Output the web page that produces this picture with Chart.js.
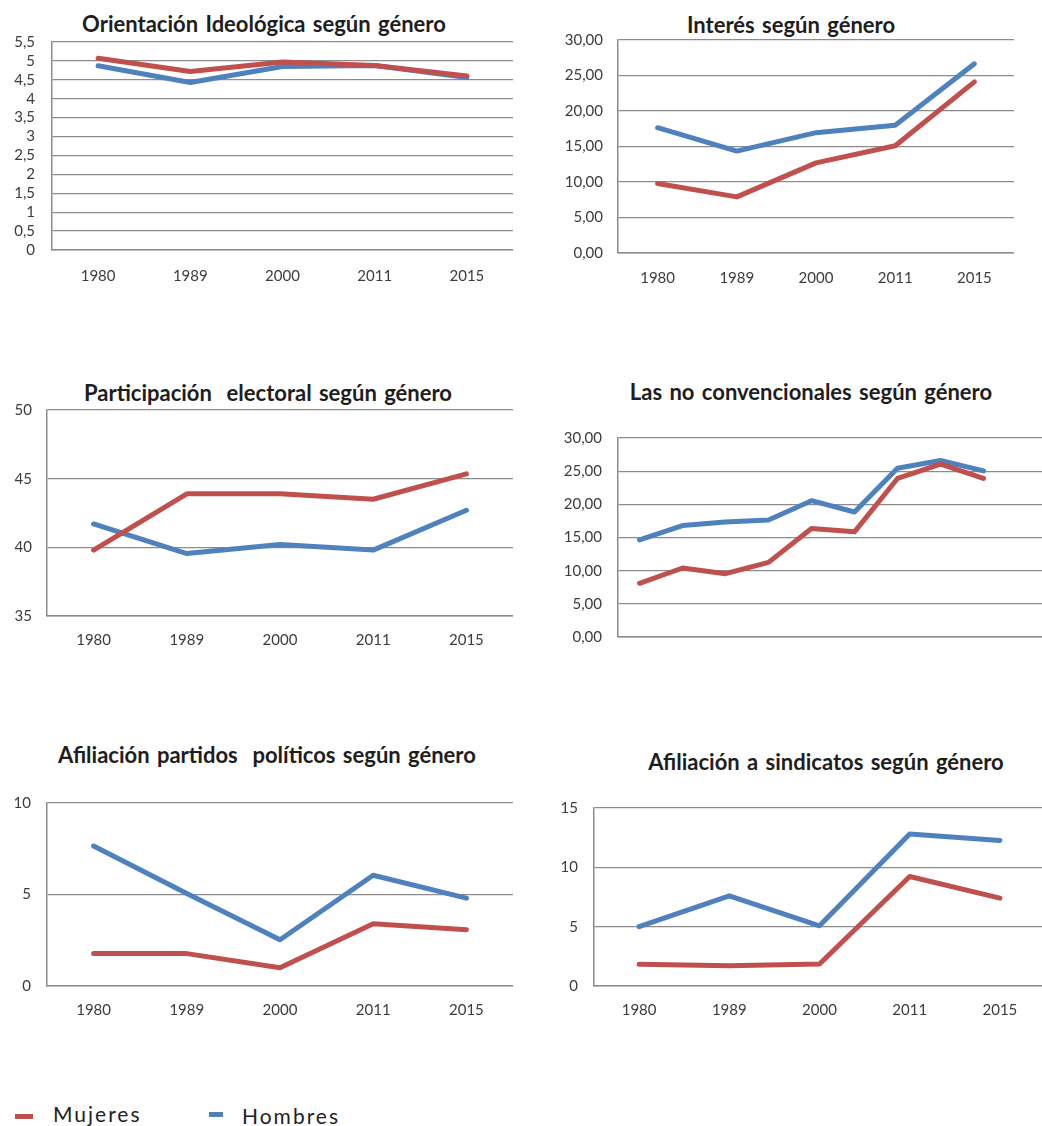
<!DOCTYPE html>
<html lang="es">
<head>
<meta charset="utf-8">
<title>Indicadores políticos según género</title>
<script src="https://cdn.jsdelivr.net/npm/chart.js@4.4.1/dist/chart.umd.min.js"></script>
<style>
  html, body { margin: 0; padding: 0; background: #fff; }
  body { width: 1042px; height: 1126px; position: relative; overflow: hidden; font-family: Lato, "Open Sans", sans-serif; }
  .box { position: absolute; }
  .titulo { position: absolute; transform: translate(-50%, -50%); white-space: pre; font-weight: bold; font-size: 22px; color: #1e1e1e; word-spacing: 2px; }
  .leyenda { position: absolute; font-size: 21px; letter-spacing: 2px; color: #222; transform: translateY(-50%); }
  .marca { position: absolute; height: 5px; }
</style>
</head>
<body>
<script>
// datos
const YEARS = ["1980", "1989", "2000", "2011", "2015"];
const SERIES = ["Mujeres", "Hombres"];

const ORIENT_MUJERES = [5.07, 4.72, 4.97, 4.88, 4.6];
const ORIENT_HOMBRES = [4.87, 4.43, 4.85, 4.88, 4.56];
const ORIENT_TICKS = ["0", "0,5", "1", "1,5", "2", "2,5", "3", "3,5", "4", "4,5", "5", "5,5"];

const INTERES_MUJERES = [9.8, 7.9, 12.7, 15.1, 24.1];
const INTERES_HOMBRES = [17.65, 14.35, 16.95, 18.0, 26.65];
const TICKS_30 = ["0,00", "5,00", "10,00", "15,00", "20,00", "25,00", "30,00"];

const ELECT_MUJERES = [39.8, 43.9, 43.9, 43.5, 45.35];
const ELECT_HOMBRES = [41.7, 39.55, 40.2, 39.8, 42.7];
const ELECT_TICKS = ["35", "40", "45", "50"];

// sin etiquetas en el eje x; la ultima categoria queda vacia
const NOCONV_CATS = ["", "", "", "", "", "", "", "", "", ""];
const NOCONV_MUJERES = [8.1, 10.4, 9.55, 11.25, 16.35, 15.85, 23.9, 26.05, 23.9];
const NOCONV_HOMBRES = [14.65, 16.8, 17.35, 17.65, 20.55, 18.85, 25.45, 26.6, 25.05];

const PARTIDOS_MUJERES = [1.77, 1.77, 1.0, 3.4, 3.08];
const PARTIDOS_HOMBRES = [7.65, 5.05, 2.53, 6.05, 4.8];
const PARTIDOS_TICKS = ["0", "5", "10"];

const SINDIC_MUJERES = [1.83, 1.7, 1.86, 9.23, 7.4];
const SINDIC_HOMBRES = [5.0, 7.6, 5.07, 12.8, 12.27];
const SINDIC_TICKS = ["0", "5", "10", "15"];

const RED = "#C0504D";
const BLUE = "#4F81BD";
const GRID = "#8c8c8c";
const TXT = "#3c3c3c";
const FONT = 'Lato, "Open Sans", sans-serif';
const TICK_SIZE = 15;
const PAD_TOP = 10;

function panel(p) {
    // titulo como texto html
    let t = document.createElement("div");
    t.className = "titulo";
    t.textContent = p.title;
    t.style.left = p.tx + "px";
    t.style.top = p.ty + "px";
    document.body.appendChild(t);

    // el eje x ocupa dos veces el padding + alto de la etiqueta;
    // sin etiquetas, abajo queda media etiqueta del eje y
    let xH = p.xTicks ? 2 * p.xPad + TICK_SIZE * 1.2 : TICK_SIZE * 0.6 - 2;
    let box = document.createElement("div");
    box.className = "box";
    box.style.left = (p.x - p.yW) + "px";
    box.style.top = (p.y - PAD_TOP) + "px";
    box.style.width = (p.yW + p.w) + "px";
    box.style.height = (PAD_TOP + p.h + xH + 2) + "px";
    let canvas = document.createElement("canvas");
    box.appendChild(canvas);
    document.body.appendChild(box);

    new Chart(canvas.getContext("2d"), {
        type: "line",
        data: {
            labels: p.labels,
            datasets: [{
                    label: SERIES[0],
                    data: p.mujeres,
                    borderColor: RED,
                    backgroundColor: RED,
                    borderWidth: 5,
                    pointRadius: 0,
                    tension: 0,
                    borderJoinStyle: "round",
                    borderCapStyle: "round"
                },
                {
                    label: SERIES[1],
                    data: p.hombres,
                    borderColor: BLUE,
                    backgroundColor: BLUE,
                    borderWidth: 5,
                    pointRadius: 0,
                    tension: 0,
                    borderJoinStyle: "round",
                    borderCapStyle: "round"
                }
            ]
        },
        options: {
            responsive: true,
            maintainAspectRatio: false,
            animation: false,
            layout: { padding: { top: PAD_TOP, bottom: 2, left: 0, right: 0 } },
            plugins: {
                legend: { display: false },
                tooltip: { enabled: false }
            },
            scales: {
                x: {
                    offset: true,
                    grid: { display: false, drawTicks: false },
                    border: { display: true, color: GRID, width: 1.5 },
                    ticks: {
                        display: p.xTicks,
                        padding: p.xPad,
                        color: TXT,
                        autoSkip: false,
                        maxRotation: 0,
                        font: { family: FONT, size: TICK_SIZE }
                    }
                },
                y: {
                    min: p.min,
                    max: p.max,
                    afterFit: (s) => { s.width = p.yW },
                    // el hueco entre etiqueta y eje va en tickLength (transparente)
                    grid: { color: GRID, lineWidth: 1.3, drawTicks: true, tickLength: p.yPad, tickColor: "rgba(0,0,0,0)" },
                    border: { display: true, color: GRID, width: 1.5 },
                    ticks: {
                        stepSize: p.step,
                        padding: 0,
                        autoSkip: false,
                        color: TXT,
                        font: { family: FONT, size: TICK_SIZE },
                        callback: (v, i) => p.ticks[i]
                    }
                }
            }
        }
    });
}

panel({ title: "Orientación Ideológica según género", tx: 264, ty: 23,
    x: 52, y: 42, w: 461, h: 208, yW: 52, yPad: 17, xPad: 17, xTicks: true,
    labels: YEARS, mujeres: ORIENT_MUJERES, hombres: ORIENT_HOMBRES,
    min: 0, max: 5.5, step: 0.5, ticks: ORIENT_TICKS });

panel({ title: "Interés según género", tx: 791, ty: 24,
    x: 618, y: 40, w: 396, h: 213, yW: 60, yPad: 15, xPad: 16, xTicks: true,
    labels: YEARS, mujeres: INTERES_MUJERES, hombres: INTERES_HOMBRES,
    min: 0, max: 30, step: 5, ticks: TICKS_30 });

panel({ title: "Participación  electoral según género", tx: 268, ty: 392,
    x: 47, y: 410, w: 466, h: 206, yW: 47, yPad: 15, xPad: 15, xTicks: true,
    labels: YEARS, mujeres: ELECT_MUJERES, hombres: ELECT_HOMBRES,
    min: 35, max: 50, step: 5, ticks: ELECT_TICKS });

panel({ title: "Las no convencionales según género", tx: 811, ty: 391,
    x: 618, y: 438, w: 430, h: 199, yW: 60, yPad: 16, xPad: 0, xTicks: false,
    labels: NOCONV_CATS, mujeres: NOCONV_MUJERES, hombres: NOCONV_HOMBRES,
    min: 0, max: 30, step: 5, ticks: TICKS_30 });

panel({ title: "Afiliación partidos  políticos según género", tx: 267, ty: 754,
    x: 47, y: 803, w: 466, h: 183, yW: 47, yPad: 16, xPad: 15, xTicks: true,
    labels: YEARS, mujeres: PARTIDOS_MUJERES, hombres: PARTIDOS_HOMBRES,
    min: 0, max: 10, step: 5, ticks: PARTIDOS_TICKS });

panel({ title: "Afiliación a sindicatos según género", tx: 826, ty: 761,
    x: 594, y: 808, w: 451, h: 178, yW: 60, yPad: 16, xPad: 15, xTicks: true,
    labels: YEARS, mujeres: SINDIC_MUJERES, hombres: SINDIC_HOMBRES,
    min: 0, max: 15, step: 5, ticks: SINDIC_TICKS });

// leyenda comun abajo
const LEYENDA = [
    { color: RED, mx: 15, mw: 18, my: 1114, tx: 53, ty: 1113 },
    { color: BLUE, mx: 209, mw: 14, my: 1112, tx: 242, ty: 1115 }
];
LEYENDA.forEach((l, i) => {
    let m = document.createElement("div");
    m.className = "marca";
    m.style.left = l.mx + "px";
    m.style.top = l.my + "px";
    m.style.width = l.mw + "px";
    m.style.background = l.color;
    document.body.appendChild(m);
    let s = document.createElement("div");
    s.className = "leyenda";
    s.style.left = l.tx + "px";
    s.style.top = l.ty + "px";
    s.textContent = SERIES[i];
    document.body.appendChild(s);
});
</script>
</body>
</html>
